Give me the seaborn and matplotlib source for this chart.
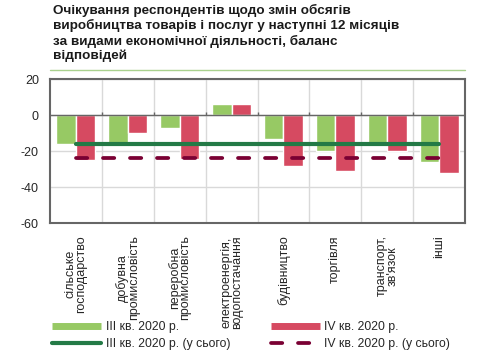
import matplotlib
matplotlib.use("Agg")
import matplotlib.pyplot as plt
import numpy as np
import pandas as pd
import seaborn as sns
from matplotlib.lines import Line2D

# дані
categories = ["сільське\nгосподарство", "добувна\nпромисловість", "переробна\nпромисловість",
              "електроенергія,\nводопостачання", "будівництво", "торгівля",
              "транспорт,\nзв'язок", "інші"]
q3_values = [-16, -17, -7, 6, -13.5, -20, -16.5, -26]
q4_values = [-25, -10, -24.5, 6, -28.5, -31, -20, -32]
q3_total = -16
q4_total = -24
series_names = ["III кв. 2020 р.", "IV кв. 2020 р."]
total_names = ["III кв. 2020 р. (у сього)", "IV кв. 2020 р. (у сього)"]

c_q3 = "#97C964"
c_q4 = "#D64A61"
c_q3_line = "#237A46"
c_q4_line = "#7A0033"
frame_col = "#666666"

sns.set_theme(style="white")
plt.rcParams["font.family"] = ["Liberation Sans", "DejaVu Sans"]
plt.rcParams["axes.unicode_minus"] = False

df = pd.DataFrame({
    "cat": categories * 2,
    "val": q3_values + q4_values,
    "series": [series_names[0]] * len(categories) + [series_names[1]] * len(categories),
})

fig = plt.figure(figsize=(4.99, 3.57), dpi=100)
ax = fig.add_axes([50 / 499, 1 - 223 / 357, 415 / 499, 144 / 357])

sns.barplot(data=df, x="cat", y="val", hue="series", palette=[c_q3, c_q4],
            width=0.75, gap=0, saturation=1, errorbar=None, legend=False, ax=ax, zorder=2)

n = len(categories)
xs = np.arange(n)
ax.plot([xs[0], xs[-1]], [q3_total, q3_total], color=c_q3_line, lw=3, zorder=4)
ax.plot([xs[0], xs[-1]], [q4_total, q4_total], color=c_q4_line, lw=2.7, zorder=4,
        dashes=(3, 4.2), dash_capstyle="round")

ax.set_xlim(-0.5, n - 0.5)
ax.set_ylim(-60, 20)
ax.set_yticks([-60, -40, -20, 0, 20])
ax.set_xticks(xs)
ax.set_xticklabels(categories, rotation=90, fontsize=9, va="top", ha="center",
                   multialignment="center", linespacing=0.88)
ax.set_xticks(np.arange(0.5, n - 0.5), minor=True)
ax.tick_params(axis="x", which="both", length=0, pad=9)
ax.tick_params(axis="y", length=0, labelsize=9, pad=8)
ax.set_xlabel("")
ax.set_ylabel("")
ax.grid(axis="y", color="#D9D9D9", lw=1, zorder=0)
ax.grid(axis="x", which="minor", color="#D9D9D9", lw=1, zorder=0)
ax.set_axisbelow(True)
ax.axhline(0, color=frame_col, lw=1, zorder=3)
# маленькі риски на нульовій лінії між категоріями
ax.vlines(np.arange(0.5, n - 0.5), 0, 1.5, color=frame_col, lw=1, zorder=3)
for s in ax.spines.values():
    s.set_color(frame_col)
    s.set_linewidth(1.5)

title = ("Очікування респондентів щодо змін обсягів\n"
         "виробництва товарів і послуг у наступні 12 місяців\n"
         "за видами економічної діяльності, баланс\n"
         "відповідей")
fig.text(53 / 499, 1 - 4 / 357, title, ha="left", va="top", fontsize=9.7,
         fontweight="bold", linespacing=1.22, color="#1A1A1A")
fig.add_artist(Line2D([50 / 499, 465 / 499], [1 - 70 / 357, 1 - 70 / 357],
                      transform=fig.transFigure, color="#A9D18E", lw=1))

handles = [Line2D([], [], color=c_q3, lw=5, solid_capstyle="butt"),
           Line2D([], [], color=c_q3_line, lw=3, solid_capstyle="round"),
           Line2D([], [], color=c_q4, lw=5, solid_capstyle="butt"),
           Line2D([], [], color=c_q4_line, lw=2.7, dashes=(3, 4.2), dash_capstyle="round")]
labels = [series_names[0], total_names[0], series_names[1], total_names[1]]
fig.legend(handles, labels, ncol=2, loc="upper left", bbox_to_anchor=(52 / 499, 1 - 321 / 357),
           frameon=False, fontsize=8.8, handlelength=4.0, handletextpad=0.4,
           columnspacing=3.3, labelspacing=0.45, borderpad=0, borderaxespad=0)

fig.savefig("out.png", dpi=100)
